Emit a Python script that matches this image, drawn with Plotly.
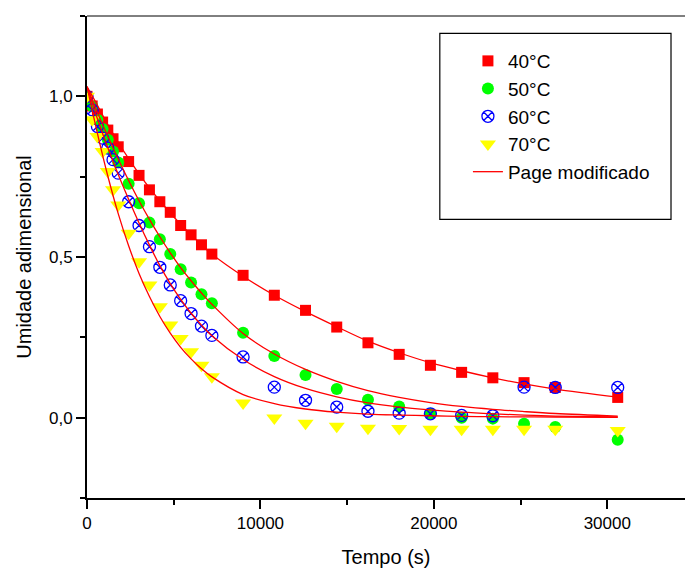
import plotly.graph_objects as go

# ---------------- data ----------------
t_pts = [0, 300, 600, 900, 1200, 1500, 1800, 2400, 3000, 3600, 4200, 4800, 5400, 6000,
         6600, 7200, 9000, 10800, 12600, 14400, 16200, 18000, 19800, 21600, 23400,
         25200, 27000, 30600]

y40 = [1.0, 0.97, 0.945, 0.92, 0.895, 0.868, 0.843, 0.797, 0.754, 0.709, 0.672, 0.639,
       0.598, 0.569, 0.538, 0.509, 0.443, 0.381, 0.334, 0.282, 0.233, 0.197, 0.163,
       0.141, 0.124, 0.109, 0.094, 0.063]
y50 = [1.0, 0.969, 0.927, 0.898, 0.865, 0.828, 0.794, 0.728, 0.667, 0.607, 0.555, 0.509,
       0.462, 0.421, 0.384, 0.356, 0.264, 0.192, 0.133, 0.089, 0.056, 0.035, 0.012,
       0.0, -0.003, -0.019, -0.029, -0.069]
y60 = [1.0, 0.958, 0.906, 0.870, 0.839, 0.803, 0.761, 0.672, 0.598, 0.532, 0.468, 0.413,
       0.364, 0.324, 0.285, 0.256, 0.189, 0.095, 0.054, 0.033, 0.020, 0.014, 0.012,
       0.007, 0.006, 0.095, 0.094, 0.094]
y70 = [1.0, 0.927, 0.875, 0.828, 0.766, 0.709, 0.662, 0.574, 0.485, 0.413, 0.345, 0.288,
       0.246, 0.205, 0.163, 0.127, 0.046, -0.001, -0.017, -0.027, -0.033, -0.034, -0.036,
       -0.036, -0.036, -0.036, -0.036, -0.040]

# fitted "Page modificado" curves
fit_t = [0, 600, 1200, 1800, 2400, 3000, 3600, 4200, 4800, 5400, 6000, 6600, 7200, 9000,
         10800, 12600, 14400, 16200, 18000, 19800, 21600, 23400, 25200, 27000, 30600]
fit40 = [1.03, 0.972, 0.912, 0.857, 0.806, 0.759, 0.715, 0.675, 0.637, 0.602, 0.569, 0.538,
         0.509, 0.44, 0.381, 0.330, 0.283, 0.238, 0.202, 0.171, 0.146, 0.124, 0.105, 0.089, 0.064]
fit50 = [1.03, 0.95, 0.876, 0.805, 0.738, 0.675, 0.617, 0.563, 0.513, 0.467, 0.426, 0.388,
         0.353, 0.262, 0.198, 0.150, 0.113, 0.084, 0.063, 0.047, 0.035, 0.026, 0.019, 0.013, 0.005]
fit60 = [1.03, 0.93, 0.84, 0.757, 0.68, 0.606, 0.537, 0.473, 0.417, 0.368, 0.325, 0.288,
         0.255, 0.181, 0.128, 0.091, 0.065, 0.046, 0.033, 0.024, 0.017, 0.012, 0.008, 0.005, 0.002]
fit70 = [1.03, 0.885, 0.752, 0.635, 0.535, 0.449, 0.377, 0.315, 0.263, 0.219, 0.183, 0.152,
         0.127, 0.072, 0.044, 0.027, 0.017, 0.011, 0.008, 0.006, 0.004, 0.003, 0.0025, 0.002, 0.001]

series_names = ["40°C", "50°C", "60°C", "70°C"]
fit_name = "Page modificado"
x_title = "Tempo (s)"
y_title = "Umidade adimensional"
x_ticks = [0, 10000, 20000, 30000]
x_ticklabels = ["0", "10000", "20000", "30000"]

# ---------------- figure ----------------
FONT = "Arial, 'Liberation Sans', sans-serif"
fig = go.Figure()

marker_styles = [
    dict(symbol="square", size=11, color="#FF0000"),
    dict(symbol="circle", size=12, color="#00FF00"),
    dict(symbol="circle-x-open", size=12, color="#0000FF", line=dict(width=1.3, color="#0000FF")),
    dict(symbol="triangle-down", size=14, color="#FFFF00"),
]
for name, ys, ms in zip(series_names, [y40, y50, y60, y70], marker_styles):
    fig.add_trace(go.Scatter(x=t_pts, y=ys, mode="markers", name=name, marker=ms))

for i, fy in enumerate([fit40, fit50, fit60, fit70]):
    fig.add_trace(go.Scatter(x=fit_t, y=fy, mode="lines", name=fit_name,
                             line=dict(color="#FF0000", width=1.3, shape="spline", smoothing=1),
                             showlegend=(i == 0)))

axis_common = dict(
    showline=True, linecolor="black", linewidth=2,
    ticks="outside", ticklen=9, tickwidth=2, tickcolor="black",
    showgrid=False, zeroline=False,
    tickfont=dict(family=FONT, size=17, color="black"),
)

fig.update_layout(
    width=685, height=571,
    margin=dict(l=87, r=0, t=16, b=73),
    paper_bgcolor="white", plot_bgcolor="white",
    separators=",.",
    font=dict(family=FONT, color="black"),
    showlegend=True,
    legend=dict(x=0.637, y=0.946, xanchor="left", yanchor="top",
                bgcolor="rgba(0,0,0,0)", borderwidth=0,
                font=dict(family=FONT, size=19, color="black"),
                tracegroupgap=0),
    xaxis=dict(range=[0, 34480], tickvals=x_ticks, ticktext=x_ticklabels,
               minor=dict(dtick=5000, tick0=0, ticks="outside", ticklen=5, tickwidth=2,
                          tickcolor="black"),
               title=dict(text=x_title, font=dict(family=FONT, size=20), standoff=18),
               **axis_common),
    yaxis=dict(range=[-0.25, 1.25], tickvals=[0, 0.5, 1.0], tickformat=".1f",
               minor=dict(dtick=0.25, tick0=0, ticks="outside", ticklen=5, tickwidth=2,
                          tickcolor="black"),
               title=dict(text=y_title, font=dict(family=FONT, size=20), standoff=12),
               **axis_common),
    shapes=[
        # top frame line
        dict(type="line", xref="paper", yref="paper", x0=0, x1=1, y0=1, y1=1,
             line=dict(color="black", width=1)),
        # legend frame
        dict(type="rect", xref="paper", yref="paper", x0=0.590, x1=0.9766, y0=0.578, y1=0.964,
             line=dict(color="black", width=1.2), fillcolor="rgba(0,0,0,0)"),
    ],
)

fig.write_html("out.html")
